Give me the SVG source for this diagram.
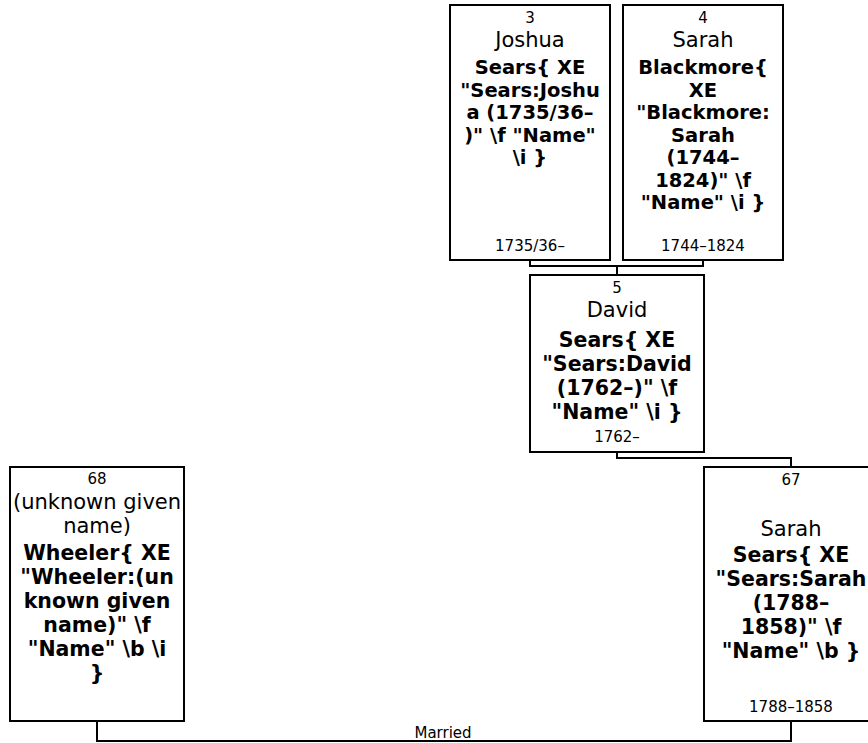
<svg xmlns="http://www.w3.org/2000/svg" width="868" height="743" viewBox="0 0 868 743">
<style>
text{font-family:"DejaVu Sans","Liberation Sans",sans-serif;fill:#000;text-anchor:middle}
.s{font-size:15px}
.n{font-size:21px}
.b{font-size:20.5px;font-weight:bold}
.t{font-size:19.5px;font-weight:bold}
rect{fill:#fff;stroke:#000;stroke-width:2}
.c path{fill:none;stroke:#000;stroke-width:2}
</style>
<rect x="0" y="0" width="868" height="743" style="stroke:none"/>
<g class="c" id="connectors">
<path d="M530,260 V266 H703 V260"/>
<path d="M617,266 V275"/>
<path d="M617,452 V458 H791 V467"/>
<path d="M97,721 V741 H791 V721"/>
<text class="s" x="443" y="737.5">Married</text>
</g>
<g id="n3">
<rect x="450" y="5" width="160" height="255"/>
<text class="s" x="530" y="22.5">3</text>
<text class="n" x="530" y="47">Joshua</text>
<text class="t" x="530" y="74">Sears{ XE</text>
<text class="t" x="530" y="96.5">"Sears:Joshu</text>
<text class="t" x="530" y="119">a (1735/36–</text>
<text class="t" x="530" y="141.5">)" \f "Name"</text>
<text class="t" x="530" y="164">\i }</text>
<text class="s" x="530" y="250.5">1735/36–</text>
</g>
<g id="n4">
<rect x="623" y="5" width="160" height="255"/>
<text class="s" x="703" y="22.5">4</text>
<text class="n" x="703" y="47">Sarah</text>
<text class="t" x="703" y="74">Blackmore{</text>
<text class="t" x="703" y="96.5">XE</text>
<text class="t" x="703" y="119">"Blackmore:</text>
<text class="t" x="703" y="141.5">Sarah</text>
<text class="t" x="703" y="164">(1744–</text>
<text class="t" x="703" y="186.5">1824)" \f</text>
<text class="t" x="703" y="209">"Name" \i }</text>
<text class="s" x="703" y="250.5">1744–1824</text>
</g>
<g id="n5">
<rect x="530" y="275" width="174" height="177"/>
<text class="s" x="617" y="292.5">5</text>
<text class="n" x="617" y="317">David</text>
<text class="b" x="617" y="347">Sears{ XE</text>
<text class="b" x="617" y="371">"Sears:David</text>
<text class="b" x="617" y="395">(1762–)" \f</text>
<text class="b" x="617" y="419">"Name" \i }</text>
<text class="s" x="617" y="441.5">1762–</text>
</g>
<g id="n68">
<rect x="10" y="467" width="174" height="254"/>
<text class="s" x="97" y="483.5">68</text>
<text class="n" x="97" y="508.5">(unknown given</text>
<text class="n" x="97" y="533">name)</text>
<text class="b" x="97" y="560">Wheeler{ XE</text>
<text class="b" x="97" y="584">"Wheeler:(un</text>
<text class="b" x="97" y="608">known given</text>
<text class="b" x="97" y="632">name)" \f</text>
<text class="b" x="97" y="656">"Name" \b \i</text>
<text class="b" x="97" y="680">}</text>
</g>
<g id="n67">
<rect x="704" y="467" width="174" height="254"/>
<text class="s" x="791" y="484.5">67</text>
<text class="n" x="791" y="536">Sarah</text>
<text class="b" x="791" y="562">Sears{ XE</text>
<text class="b" x="791" y="586">"Sears:Sarah</text>
<text class="b" x="791" y="610">(1788–</text>
<text class="b" x="791" y="634">1858)" \f</text>
<text class="b" x="791" y="658">"Name" \b }</text>
<text class="s" x="791" y="711.5">1788–1858</text>
</g>
</svg>
